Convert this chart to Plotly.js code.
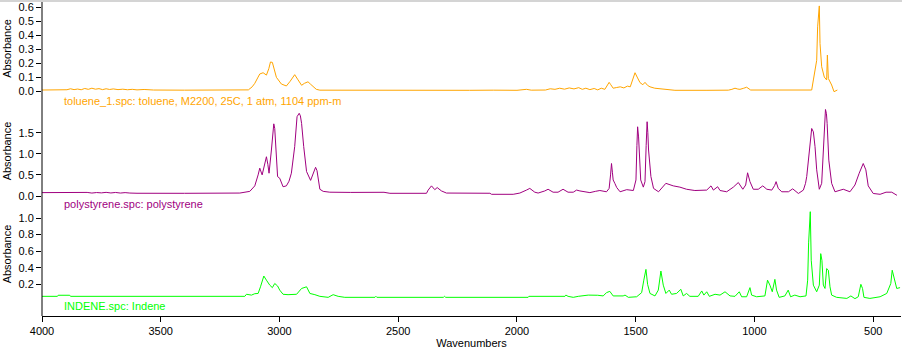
<!DOCTYPE html>
<html>
<head>
<meta charset="utf-8">
<script src="https://cdn.plot.ly/plotly-3.0.1.min.js"></script>
<style>html,body{margin:0;padding:0;background:#fff;}#chart{width:902px;height:351px;}</style>
</head>
<body>
<div id="chart"></div>
<script>
// ---- Data ----
const tolueneLabel = "toluene_1.spc: toluene, M2200, 25C, 1 atm, 1104 ppm-m";
const polystyreneLabel = "polystyrene.spc: polystyrene";
const indeneLabel = "INDENE.spc: Indene";

const tolueneWn = [4000,3920,3910,3895,3880,3865,3850,3835,3820,3805,3790,3775,3760,3745,3730,3715,3700,3680,3660,3640,3620,3600,3570,3540,3530,3400,3300,3200,3131,3115,3104,3090,3083,3069,3055,3045,3038,3030,3022,3013,2992,2971,2955,2936,2922,2907,2895,2880,2870,2858,2845,2830,2700,2580,2500,2400,2300,2200,2100,2000,1960,1940,1880,1860,1840,1820,1800,1780,1760,1740,1725,1710,1693,1675,1660,1645,1630,1620,1612,1605,1595,1580,1565,1550,1535,1523,1512,1503,1494,1482,1470,1461,1450,1440,1420,1398,1380,1356,1335,1200,1110,1095,1082,1070,1061,1045,1033,1016,900,880,860,800,759,752,745,738,734,729,727,724,717,706,696,693,689,675,665,651];
const tolueneAbs = [0.007,0.007,0.012,0.009,0.016,0.010,0.014,0.009,0.018,0.012,0.020,0.013,0.017,0.010,0.016,0.011,0.015,0.010,0.013,0.009,0.012,0.008,0.011,0.008,0.007,0.006,0.007,0.006,0.008,0.030,0.055,0.100,0.122,0.131,0.114,0.160,0.208,0.205,0.150,0.098,0.050,0.036,0.070,0.117,0.080,0.041,0.055,0.066,0.050,0.033,0.012,0.006,0.005,0.003,0.006,0.004,0.006,0.005,0.006,0.005,0.012,0.006,0.007,0.016,0.012,0.020,0.013,0.022,0.015,0.024,0.012,0.020,0.010,0.018,0.008,0.020,0.012,0.040,0.062,0.045,0.020,0.025,0.030,0.022,0.035,0.030,0.080,0.131,0.100,0.060,0.045,0.062,0.040,0.030,0.020,0.017,0.012,0.007,0.005,0.005,0.006,0.012,0.020,0.014,0.012,0.020,0.027,0.007,0.006,0.010,0.005,0.006,0.007,0.079,0.150,0.220,0.460,0.580,0.610,0.340,0.174,0.100,0.079,0.258,0.090,0.043,-0.005,0.007];

const polyWn = [4000,3900,3890,3870,3850,3830,3810,3790,3770,3750,3730,3710,3690,3670,3650,3630,3610,3600,3400,3167,3125,3104,3090,3083,3073,3062,3055,3049,3044,3034,3027,3024,3020,3016,3008,2999,2985,2971,2960,2950,2936,2926,2917,2912,2907,2898,2886,2869,2855,2848,2842,2837,2830,2816,2788,2700,2600,2590,2580,2560,2535,2381,2374,2360,2346,2336,2318,2297,2114,2107,2016,1988,1960,1946,1925,1911,1883,1869,1848,1827,1806,1785,1763,1749,1735,1715,1693,1670,1651,1623,1612,1606,1602,1598,1595,1588,1580,1566,1538,1510,1499,1495,1492,1488,1485,1479,1468,1461,1456,1452,1449,1446,1436,1425,1404,1390,1373,1342,1314,1286,1251,1201,1183,1173,1155,1145,1117,1089,1068,1049,1037,1029,1019,1005,984,965,948,927,915,909,900,885,857,839,815,794,785,780,769,762,759,752,745,738,727,717,708,704,701,697,694,687,675,661,626,598,577,559,542,531,521,500,471,446,422,400];
const polyAbs = [0.080,0.078,0.090,0.075,0.088,0.072,0.085,0.070,0.082,0.074,0.086,0.072,0.084,0.070,0.080,0.070,0.078,0.065,0.064,0.070,0.110,0.240,0.500,0.660,0.500,0.790,0.930,0.750,0.540,1.090,1.500,1.710,1.600,1.250,0.460,0.420,0.220,0.240,0.350,0.540,1.170,1.880,1.960,1.900,1.720,1.170,0.580,0.370,0.550,0.680,0.600,0.370,0.160,0.110,0.090,0.085,0.085,0.090,0.080,0.088,0.064,0.064,0.140,0.240,0.150,0.200,0.120,0.070,0.065,0.040,0.040,0.070,0.140,0.180,0.090,0.070,0.120,0.160,0.090,0.090,0.160,0.090,0.090,0.140,0.120,0.100,0.080,0.110,0.130,0.100,0.180,0.500,0.770,0.550,0.380,0.300,0.200,0.100,0.150,0.130,0.380,1.200,1.640,1.400,1.010,0.380,0.210,0.340,1.200,1.760,1.500,1.090,0.460,0.180,0.100,0.200,0.300,0.240,0.210,0.160,0.130,0.140,0.240,0.140,0.220,0.130,0.100,0.210,0.320,0.160,0.260,0.550,0.340,0.160,0.160,0.240,0.160,0.140,0.250,0.340,0.180,0.100,0.100,0.170,0.060,0.140,0.300,0.460,1.090,1.500,1.600,1.520,1.170,0.620,0.160,0.300,1.330,1.800,2.050,1.950,1.720,0.850,0.300,0.100,0.160,0.100,0.260,0.540,0.770,0.620,0.240,0.060,0.040,0.090,0.090,0.016];

const indeneWn = [4000,3935,3932,3883,3880,3209,3146,3139,3118,3104,3090,3080,3066,3055,3041,3030,3020,3008,2999,2985,2964,2928,2907,2886,2872,2851,2830,2795,2774,2753,2725,2598,2594,2590,2310,2305,2300,1953,1950,1798,1794,1785,1763,1742,1700,1660,1637,1623,1609,1595,1553,1545,1531,1496,1475,1466,1457,1450,1440,1419,1405,1394,1384,1373,1359,1349,1328,1310,1300,1286,1272,1237,1222,1213,1201,1190,1166,1145,1124,1103,1082,1064,1054,1033,1019,1012,991,956,945,935,925,914,907,896,872,858,848,830,808,783,776,772,769,765,761,752,738,727,721,716,710,703,696,689,682,675,654,611,594,577,563,552,545,539,514,471,443,426,420,408,401,387];
const indeneAbs = [0.055,0.055,0.068,0.068,0.055,0.055,0.055,0.080,0.070,0.087,0.090,0.170,0.300,0.250,0.190,0.160,0.210,0.180,0.130,0.080,0.075,0.080,0.150,0.170,0.090,0.075,0.055,0.043,0.075,0.055,0.043,0.043,0.055,0.043,0.043,0.055,0.043,0.043,0.055,0.055,0.070,0.055,0.043,0.055,0.070,0.068,0.060,0.100,0.115,0.060,0.060,0.070,0.043,0.050,0.100,0.250,0.380,0.200,0.090,0.060,0.130,0.360,0.190,0.090,0.130,0.080,0.090,0.140,0.060,0.090,0.055,0.055,0.120,0.070,0.110,0.055,0.080,0.070,0.110,0.060,0.055,0.110,0.050,0.050,0.160,0.070,0.050,0.060,0.250,0.190,0.110,0.260,0.130,0.043,0.060,0.130,0.050,0.070,0.050,0.060,0.250,0.700,0.980,1.076,0.490,0.190,0.110,0.190,0.570,0.490,0.190,0.150,0.390,0.370,0.170,0.070,0.043,0.030,0.060,0.027,0.050,0.200,0.150,0.043,0.030,0.050,0.090,0.210,0.370,0.250,0.150,0.160];

const xTickVals = [4000,3500,3000,2500,2000,1500,1000,500];
const tolTicks = [0,0.1,0.2,0.3,0.4,0.5,0.6];
const polyTicks = [0,0.5,1.0,1.5];
const indTicks = [0.2,0.4,0.6,0.8,1.0];

// ---- Colours ----
const cTol = '#ffa500', cPoly = '#a0007f', cInd = '#00ff00';
const font = 'Liberation Sans, Arial, sans-serif';

const traces = [
  {x: tolueneWn, y: tolueneAbs, yaxis: 'y', type: 'scatter', mode: 'lines', line: {color: cTol, width: 1}, name: tolueneLabel},
  {x: polyWn, y: polyAbs, yaxis: 'y2', type: 'scatter', mode: 'lines', line: {color: cPoly, width: 1}, name: polystyreneLabel},
  {x: indeneWn, y: indeneAbs, yaxis: 'y3', type: 'scatter', mode: 'lines', line: {color: cInd, width: 1}, name: indeneLabel}
];

// pixel -> paper helper for the 314px tall plot area (top at 2px, bottom at 316px)
const H = 314, B = 316;
const f = p => (B - p) / H;

const yCommon = {
  anchor: 'x', ticks: 'outside', ticklen: 5, tickcolor: '#000', showgrid: false, zeroline: false,
  showline: false, tickfont: {family: font, size: 11, color: '#000'}, tickformat: '.1f',
  title: {text: 'Absorbance', font: {family: font, size: 11, color: '#000'}, standoff: 4}
};

const layout = {
  width: 902, height: 351,
  margin: {l: 42, r: 1, t: 2, b: 35},
  paper_bgcolor: '#fff', plot_bgcolor: '#fff',
  showlegend: false,
  font: {family: font, size: 11, color: '#000'},
  xaxis: {
    range: [4000, 383], anchor: 'free', position: 0,
    tickvals: xTickVals, ticktext: xTickVals.map(String),
    ticks: 'outside', ticklen: 5, tickcolor: '#000',
    showline: true, linecolor: '#000', linewidth: 1,
    showgrid: false, zeroline: false,
    tickfont: {family: font, size: 11, color: '#000'},
    title: {text: 'Wavenumbers', font: {family: font, size: 11, color: '#000'}, standoff: 2}
  },
  yaxis: Object.assign({}, yCommon, {domain: [f(95), 1], range: [(91 - 95) / 139.5, (91 - 2) / 139.5], tickvals: tolTicks}),
  yaxis2: Object.assign({}, yCommon, {domain: [f(207), f(95)], range: [(196 - 207) / 42.2, (196 - 95) / 42.2], tickvals: polyTicks}),
  yaxis3: Object.assign({}, yCommon, {domain: [f(301), f(207)], range: [(300.9 - 301) / 82.9, (300.9 - 207) / 82.9], tickvals: indTicks}),
  shapes: [
    {type: 'line', xref: 'paper', yref: 'paper', x0: 0, x1: 0, y0: 0, y1: 1, line: {color: '#000', width: 1}},
    {type: 'line', xref: 'paper', yref: 'paper', x0: -0.06, x1: 1.01, y0: f(1), y1: f(1), line: {color: '#d4d4d4', width: 2}}
  ],
  annotations: [
    {text: tolueneLabel, xref: 'paper', yref: 'paper', x: 20 / 859, y: f(101), xanchor: 'left', yanchor: 'middle', showarrow: false, font: {family: font, size: 11, color: cTol}},
    {text: polystyreneLabel, xref: 'paper', yref: 'paper', x: 20 / 859, y: f(204), xanchor: 'left', yanchor: 'middle', showarrow: false, font: {family: font, size: 11, color: cPoly}},
    {text: indeneLabel, xref: 'paper', yref: 'paper', x: 20 / 859, y: f(306), xanchor: 'left', yanchor: 'middle', showarrow: false, font: {family: font, size: 11, color: cInd}}
  ]
};

Plotly.newPlot('chart', traces, layout, {displayModeBar: false, staticPlot: true});
</script>
</body>
</html>
